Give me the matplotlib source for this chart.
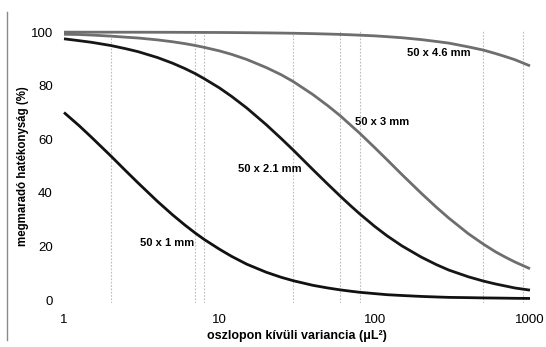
import numpy as np
import matplotlib
matplotlib.use("Agg")
import matplotlib.pyplot as plt
from matplotlib.lines import Line2D

plt.rcParams["font.family"] = ["Liberation Sans", "DejaVu Sans"]

# extra-column variance (uL^2)
variance = [1, 1.25, 1.5, 2, 2.5, 3, 4, 5, 6, 7, 8, 10, 12, 15, 20, 25, 30, 40, 50,
            60, 70, 80, 100, 120, 150, 200, 250, 300, 400, 500, 600, 700, 800, 1000]

# remaining efficiency (%)
eff_1mm = [70, 65.1, 60.8, 53.8, 48.2, 43.7, 36.8, 31.8, 28, 25, 22.6, 19, 16.3, 13.4,
           10.4, 8.5, 7.2, 5.5, 4.5, 3.8, 3.3, 2.9, 2.4, 2.0, 1.7, 1.35, 1.15, 1.0, 0.9,
           0.8, 0.75, 0.7, 0.65, 0.6]
eff_21mm = [97.5, 96.8, 96.2, 95, 93.8, 92.7, 90.5, 88.4, 86.4, 84.5, 82.6, 79.2, 76, 71.7,
            65.5, 60.3, 55.9, 48.7, 43.2, 38.8, 35.2, 32.2, 27.5, 24, 20.2, 16, 13.2, 11.2,
            8.7, 7.1, 6.0, 5.2, 4.5, 3.7]
eff_3mm = [99.2, 99.1, 98.9, 98.5, 98.1, 97.8, 97.1, 96.4, 95.7, 95, 94.3, 93, 91.7, 89.8,
           86.8, 84.1, 81.5, 76.7, 72.5, 68.8, 65.3, 62.3, 56.9, 52.4, 46.8, 39.8, 34.6,
           30.6, 24.8, 20.9, 18, 15.9, 14.2, 11.7]
eff_46mm = [99.99, 99.98, 99.98, 99.97, 99.96, 99.96, 99.94, 99.93, 99.91, 99.9, 99.88,
            99.86, 99.83, 99.78, 99.71, 99.64, 99.57, 99.43, 99.28, 99.14, 99.0, 98.86,
            98.6, 98.3, 97.9, 97.2, 96.5, 95.9, 94.5, 93.3, 92.0, 90.8, 89.7, 87.4]

curve_labels = ["50 x 1 mm", "50 x 2.1 mm", "50 x 3 mm", "50 x 4.6 mm"]
label_x = [4.6, 21, 112, 260]
label_y = [21.3, 48.9, 66.4, 92.2]

# dotted reference lines
ref_variance = [2, 7, 8, 30, 60, 80, 500, 900]

fig = plt.figure(figsize=(5.46, 3.47), dpi=100)
ax = fig.add_axes([64 / 546, 1 - 303 / 347, (530 - 64) / 546, (303 - 30.5) / 347])

for v in ref_variance:
    ax.axvline(v, color="#bdbdbd", lw=0.8, ls=(0, (1.5, 1.5)), zorder=1)

series = [eff_1mm, eff_21mm, eff_3mm, eff_46mm]
colors = ["#111111", "#161616", "#6e6e6e", "#6e6e6e"]
for vals, c in zip(series, colors):
    ax.plot(variance, vals, color=c, lw=2.0, solid_capstyle="butt",
            solid_joinstyle="round", clip_on=False, zorder=3)

for txt, x, y in zip(curve_labels, label_x, label_y):
    ax.text(x, y, txt, ha="center", va="center", fontsize=8, fontweight="bold", zorder=4)

ax.set_xscale("log")
ax.set_xlim(1, 1000)
ax.set_ylim(-1.1, 100.6)
ax.set_xticks([1, 10, 100, 1000])
ax.set_xticklabels(["1", "10", "100", "1000"])
ax.xaxis.set_minor_locator(matplotlib.ticker.NullLocator())
ax.set_yticks([0, 20, 40, 60, 80, 100])
ax.tick_params(axis="both", length=0, labelsize=9.5)
ax.tick_params(axis="x", pad=8)
ax.tick_params(axis="y", pad=8)
for s in ax.spines.values():
    s.set_visible(False)

ax.set_xlabel("oszlopon kívüli variancia (μL²)", fontsize=9,
              fontweight="bold", labelpad=3)
fig.text(23 / 546, 1 - 166 / 347, "megmaradó hatékonyság (%)", rotation=90,
         ha="center", va="center", fontsize=8.3, fontweight="bold")

# thin frame line at the left edge of the image
fig.add_artist(Line2D([7 / 546, 7 / 546], [1 - 12 / 347, 1 - 340 / 347],
                      transform=fig.transFigure, color="#8a8a8a", lw=1))

fig.savefig("out.png", dpi=100)
